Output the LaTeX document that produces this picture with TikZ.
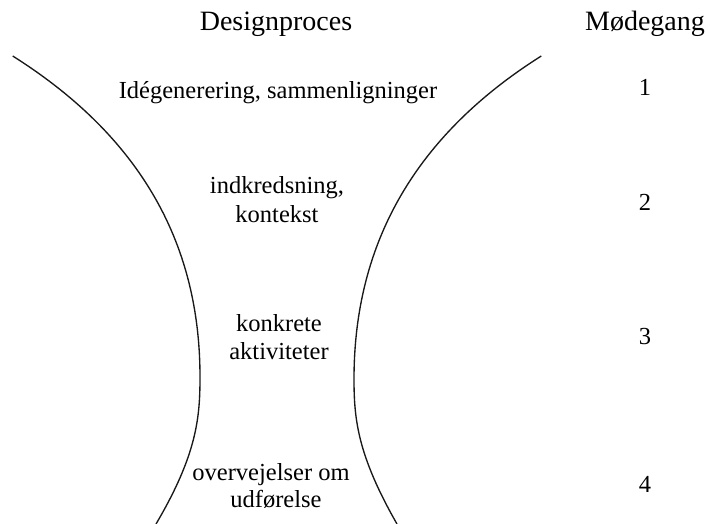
\documentclass[tikz,border=0pt]{standalone}
\usepackage{fontspec}
\setmainfont{Liberation Serif}
\begin{document}
\begin{tikzpicture}[x=1pt,y=-1pt,
  head/.style={anchor=base,inner sep=0pt,font=\fontsize{28}{32}\selectfont},
  body/.style={anchor=base,inner sep=0pt,font=\fontsize{24.5}{28}\selectfont},
  curve/.style={line width=1.35pt,black!90}]
\useasboundingbox (0,0) rectangle (710,523);
\begin{scope}
\clip (0,0) rectangle (710,523);
\coordinate (la) at (12.7,56);
\coordinate (lm) at (200,377);
\coordinate (lb) at (156,524);
\coordinate (ra) at (541.3,56);
\coordinate (rm) at (354,379);
\coordinate (rb) at (397,524);
\draw[curve] (la) .. controls (152.3,144) and (200,257) .. (lm)
                  .. controls (200,417) and (197.1,454.4) .. (lb);
\draw[curve] (ra) .. controls (401.7,144) and (354,259) .. (rm)
                  .. controls (354,419) and (357.5,455) .. (rb);
\end{scope}
\node[head] (h1) at (276,30) {Designproces};
\node[head] (h2) at (645,30) {Mødegang};
\node[body] (t1) at (278,98) {Idégenerering, sammenligninger};
\node[body] (t2a) at (277,193) {indkredsning,};
\node[body] (t2b) at (277,222) {kontekst};
\node[body] (t3a) at (279,331) {konkrete};
\node[body] (t3b) at (279,359) {aktiviteter};
\node[body] (t4a) at (271,480) {overvejelser om};
\node[body] (t4b) at (276,507) {udførelse};
\node[body] (n1) at (645,95) {1};
\node[body] (n2) at (645,210) {2};
\node[body] (n3) at (645,344) {3};
\node[body] (n4) at (645,492) {4};
\end{tikzpicture}
\end{document}
